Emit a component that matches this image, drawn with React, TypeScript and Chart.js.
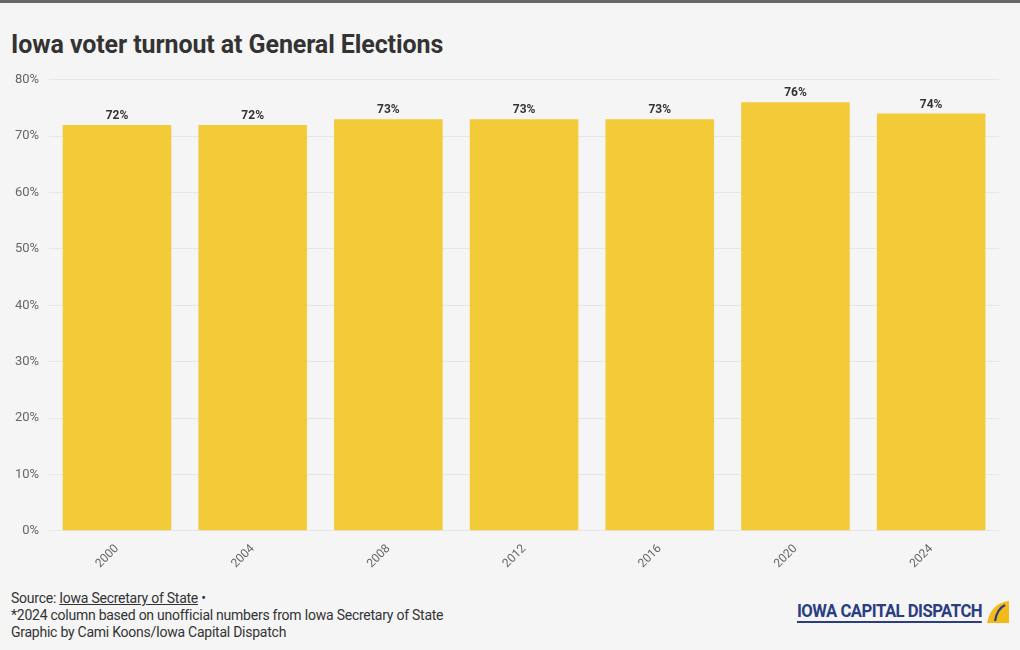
import React, { useEffect, useRef } from "react";
import { Chart, registerables } from "chart.js";

Chart.register(...registerables);

const years = ["2000", "2004", "2008", "2012", "2016", "2020", "2024"];
const turnout = [72, 72, 73, 73, 73, 76, 74];
const yTicks = [0, 10, 20, 30, 40, 50, 60, 70, 80];

const labelPlugin = {
  id: "barLabels",
  afterDatasetsDraw(chart: any) {
    const ctx = chart.ctx;
    const meta = chart.getDatasetMeta(0);
    ctx.save();
    ctx.font = "bold 12px Roboto";
    ctx.fillStyle = "#333333";
    ctx.textAlign = "center";
    ctx.textBaseline = "bottom";
    meta.data.forEach((bar: any, i: number) => {
      ctx.fillText(turnout[i] + "%", bar.x, bar.y - 3);
    });
    ctx.restore();
  },
};

export default function App() {
  const ref = useRef<HTMLCanvasElement>(null);
  useEffect(() => {
    document.body.style.margin = "0";
    document.body.style.background = "#f5f5f5";
    const chart = new Chart(ref.current!, {
      type: "bar",
      data: {
        labels: years,
        datasets: [
          {
            data: turnout,
            backgroundColor: "#f3ca38",
            categoryPercentage: 0.8,
            barPercentage: 1,
          },
        ],
      },
      options: {
        animation: false,
        responsive: false,
        maintainAspectRatio: false,
        layout: { padding: { left: 5, right: 21, top: 14, bottom: 0 } },
        plugins: { legend: { display: false }, tooltip: { enabled: false } },
        scales: {
          x: {
            grid: { display: false },
            border: { display: false },
            ticks: {
              color: "#666",
              font: { family: "Roboto", size: 12 },
              maxRotation: 45,
              minRotation: 45,
            },
          },
          y: {
            min: 0,
            max: 80,
            afterBuildTicks: (axis: any) => {
              axis.ticks = yTicks.map((v) => ({ value: v }));
            },
            grid: { color: "#e6e6e6", drawTicks: false },
            border: { display: false },
            ticks: {
              color: "#666",
              padding: 10,
              font: { family: "Roboto", size: 13 },
              callback: (v: any) => v + "%",
            },
          },
        },
      },
      plugins: [labelPlugin],
    });
    return () => chart.destroy();
  }, []);

  return (
    <div
      style={{
        position: "relative",
        width: 1020,
        height: 650,
        background: "#f5f5f5",
        fontFamily: "Roboto, sans-serif",
        overflow: "hidden",
      }}
    >
      <div style={{ position: "absolute", left: 0, top: 0, width: 1020, height: 3, background: "#666" }} />
      <div
        style={{
          position: "absolute",
          left: 11,
          top: 30,
          fontSize: 25,
          fontWeight: 700,
          color: "#333",
          letterSpacing: -0.1,
          whiteSpace: "nowrap",
        }}
      >
        Iowa voter turnout at General Elections
      </div>
      <canvas
        ref={ref}
        width={1020}
        height={512}
        style={{ position: "absolute", left: 0, top: 62, width: 1020, height: 512 }}
      />
      <div
        style={{
          position: "absolute",
          left: 11,
          top: 590,
          fontSize: 14,
          lineHeight: "17px",
          color: "#333",
          letterSpacing: -0.25,
          whiteSpace: "nowrap",
        }}
      >
        <div>
          Source: <span style={{ textDecoration: "underline" }}>Iowa Secretary of State</span> •
        </div>
        <div>*2024 column based on unofficial numbers from Iowa Secretary of State</div>
        <div>Graphic by Cami Koons/Iowa Capital Dispatch</div>
      </div>
      <div style={{ position: "absolute", left: 797, top: 600, display: "flex", alignItems: "flex-end" }}>
        <div
          style={{
            fontSize: 19,
            fontWeight: 700,
            color: "#2b3e82",
            borderBottom: "2px solid #2b3e82",
            paddingBottom: 0,
            lineHeight: "21px",
            letterSpacing: -0.6,
            transform: "scaleX(0.88)",
            transformOrigin: "left",
            whiteSpace: "nowrap",
          }}
        >
          IOWA CAPITAL DISPATCH
        </div>
      </div>
      <svg style={{ position: "absolute", left: 985, top: 599 }} width={26} height={26} viewBox="0 0 26 26">
        <path d="M2 24 Q6 4 24 2 L24 24 Z" fill="#f3ba1a" />
        <path d="M10 22 Q12 10 20 6" stroke="#2b3e82" strokeWidth={2.2} fill="none" />
      </svg>
    </div>
  );
}
